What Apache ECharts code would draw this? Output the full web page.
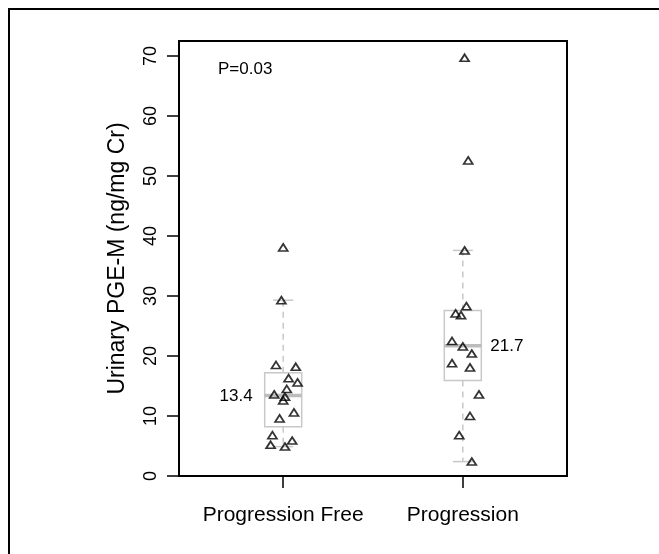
<!DOCTYPE html>
<html>
<head>
<meta charset="utf-8">
<script src="https://cdn.jsdelivr.net/npm/echarts@6/dist/echarts.min.js"></script>
<style>
  html, body { margin: 0; padding: 0; background: #fff; }
  #chart { width: 659px; height: 554px; }
</style>
</head>
<body>
<div id="chart"></div>
<script>
// groups on the x axis (boxes sit at x = 1 and x = 2)
var groups = ['Progression Free', 'Progression'];
var yTicks = [0, 10, 20, 30, 40, 50, 60, 70];

// box stats: [x, lower whisker, Q1, median, Q3, upper whisker]
var boxStats = [
    [1, 4.9, 8.2, 13.4, 17.2, 29.3],
    [2, 2.4, 15.9, 21.7, 27.6, 37.6]
];
var medianLabels = ['13.4', '21.7'];

// jittered points [x, value]
var freePoints = [
    [1.00, 38.1], [0.99, 29.3], [0.96, 18.5], [1.07, 18.2], [1.03, 16.3], [1.08, 15.6],
    [1.02, 14.5], [0.95, 13.6], [1.01, 13.2], [1.00, 12.6], [1.06, 10.6], [0.98, 9.6],
    [0.94, 6.8], [1.05, 5.9], [0.93, 5.2], [1.01, 4.9]
];
var progPoints = [
    [2.01, 69.7], [2.03, 52.6], [2.01, 37.6], [2.02, 28.3], [1.96, 27.1], [1.99, 26.8],
    [1.94, 22.5], [2.00, 21.6], [2.05, 20.4], [1.94, 18.8], [2.04, 18.1], [2.09, 13.6],
    [2.04, 10.0], [1.98, 6.8], [2.05, 2.4]
];
var pText = 'P=0.03';

var FONT = '"Liberation Sans", Arial, Helvetica, sans-serif';
var BOX_W = 37;
var CAP_W = 20;
var boxGray = '#c8c8c8';

function renderBox(params, api) {
    var x = api.value(0);
    var lo = api.coord([x, api.value(1)]);
    var q1 = api.coord([x, api.value(2)]);
    var med = api.coord([x, api.value(3)]);
    var q3 = api.coord([x, api.value(4)]);
    var hi = api.coord([x, api.value(5)]);
    var cx = lo[0];
    var half = BOX_W / 2;
    var i = params.dataIndex;
    var lbl = i === 0
        ? {x: cx - half - 12, align: 'right'}
        : {x: cx + half + 9, align: 'left'};
    return {
        type: 'group',
        children: [
            {type: 'line', shape: {x1: cx, y1: q3[1], x2: cx, y2: hi[1]},
                style: {stroke: boxGray, lineWidth: 1.5, lineDash: [6, 5]}},
            {type: 'line', shape: {x1: cx, y1: q1[1], x2: cx, y2: lo[1]},
                style: {stroke: boxGray, lineWidth: 1.5, lineDash: [6, 5]}},
            {type: 'line', shape: {x1: cx - CAP_W / 2, y1: hi[1], x2: cx + CAP_W / 2, y2: hi[1]},
                style: {stroke: boxGray, lineWidth: 1.5}},
            {type: 'line', shape: {x1: cx - CAP_W / 2, y1: lo[1], x2: cx + CAP_W / 2, y2: lo[1]},
                style: {stroke: boxGray, lineWidth: 1.5}},
            {type: 'rect', shape: {x: cx - half, y: q3[1], width: BOX_W, height: q1[1] - q3[1]},
                style: {fill: 'none', stroke: boxGray, lineWidth: 1.5}},
            {type: 'line', shape: {x1: cx - half, y1: med[1], x2: cx + half, y2: med[1]},
                style: {stroke: '#bdbdbd', lineWidth: 3.5}},
            {type: 'text', style: {x: lbl.x, y: med[1] + 1, text: medianLabels[i], align: lbl.align,
                verticalAlign: 'middle', fill: '#000', font: '17px ' + FONT}}
        ]
    };
}

var chart = echarts.init(document.getElementById('chart'));
chart.setOption({
    animation: false,
    backgroundColor: '#fff',
    textStyle: {fontFamily: FONT},
    grid: {
        left: 179, right: 92, top: 41, bottom: 78,
        show: true, borderColor: '#000', borderWidth: 2, backgroundColor: 'transparent'
    },
    xAxis: {
        type: 'value',
        min: 0.42,
        max: 2.58,
        axisLine: {show: false},
        splitLine: {show: false},
        axisTick: {show: true, customValues: [1, 2], length: 12, lineStyle: {color: '#000', width: 1.5}},
        axisLabel: {
            customValues: [1, 2],
            margin: 29,
            fontSize: 21,
            color: '#000',
            formatter: function (v) { return groups[Math.round(v) - 1]; }
        }
    },
    yAxis: {
        type: 'value',
        min: 0,
        max: 72.5,
        name: 'Urinary PGE-M (ng/mg Cr)',
        nameLocation: 'middle',
        nameGap: 50,
        nameTextStyle: {fontSize: 23, color: '#000'},
        axisLine: {show: false},
        splitLine: {show: false},
        axisTick: {show: true, customValues: yTicks, length: 12, lineStyle: {color: '#000', width: 1.5}},
        axisLabel: {customValues: yTicks, rotate: 90, margin: 19, fontSize: 18, color: '#000'}
    },
    graphic: [
        {type: 'polyline', shape: {points: [[9, 554], [9, 9], [659, 9]]},
            style: {stroke: '#000', lineWidth: 2, fill: 'none'}},
        {type: 'text', left: 218, top: 61, style: {text: pText, font: '17px ' + FONT, fill: '#000'}}
    ],
    series: [
        {
            type: 'custom',
            renderItem: renderBox,
            data: boxStats,
            z: 1
        },
        {
            type: 'scatter',
            data: freePoints,
            symbol: 'triangle',
            symbolSize: [9, 7],
            itemStyle: {color: 'rgba(0,0,0,0)', borderColor: '#000', borderWidth: 1.7},
            z: 3
        },
        {
            type: 'scatter',
            data: progPoints,
            symbol: 'triangle',
            symbolSize: [9, 7],
            itemStyle: {color: 'rgba(0,0,0,0)', borderColor: '#000', borderWidth: 1.7},
            z: 3
        }
    ]
});
</script>
</body>
</html>
